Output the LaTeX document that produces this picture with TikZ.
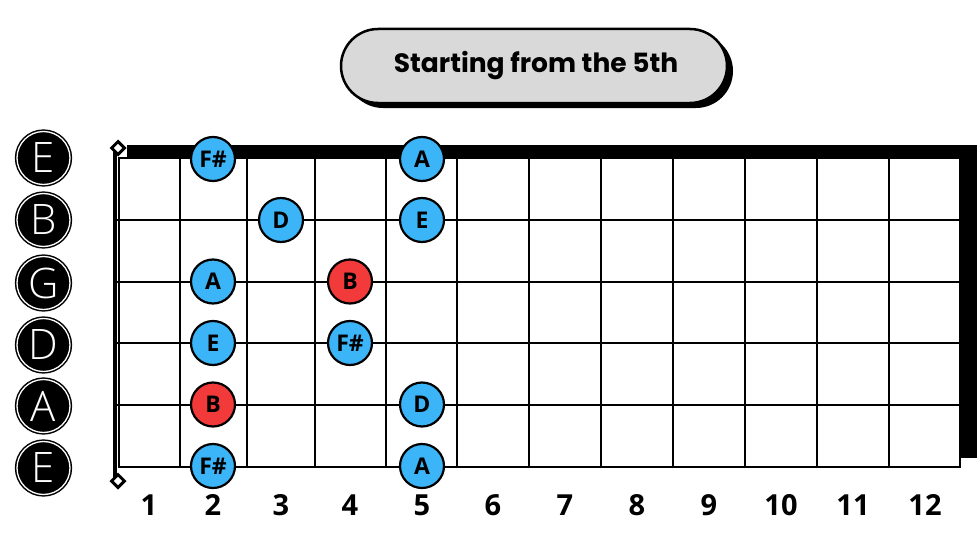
\documentclass[tikz,border=0pt]{standalone}
\usepackage{fontspec}
\usepackage{xcolor}
\usetikzlibrary{shapes.geometric}
\setmainfont{Open Sans}
\newfontfamily\titlefont{Poppins}
\IfFontExistsTF{Open Sans Light}{\newfontfamily\stringfont{Open Sans Light}}{%
  \IfFontExistsTF{Lato Light}{\newfontfamily\stringfont{Lato Light}}{\newfontfamily\stringfont{Lato}}}
\definecolor{noteblue}{HTML}{3BB5F8}
\definecolor{notered}{HTML}{F23A3A}
\definecolor{pillgray}{HTML}{D9D9D9}

\begin{document}
\begin{tikzpicture}[x=1pt, y=-1pt]
    \tikzstyle{note}=[circle,draw=black,line width=2.2pt,fill=noteblue,minimum size=44pt,inner sep=0pt,font=\bfseries\fontsize{23}{23}\selectfont]
    \tikzstyle{rootnote}=[note,fill=notered]
    \tikzstyle{stringlabel}=[circle,fill=black,draw=black,double=white,double distance=1.3pt,line width=1.5pt,minimum size=53pt,inner sep=0pt,text=white,font=\stringfont\fontsize{42}{42}\selectfont]
    \tikzstyle{fretnum}=[inner sep=0pt,font=\bfseries\fontsize{29}{29}\selectfont]
    \tikzstyle{nutmark}=[diamond,draw=black,fill=white,line width=3pt,minimum size=14pt,inner sep=0pt]
    \tikzstyle{pill}=[line width=2.5pt,rounded corners=37pt]

    \useasboundingbox (0,0) rectangle (980,551);

    % title
    \fill[pill] (346,34) rectangle (733,108);
    \draw[pill,fill=pillgray] (341,29) rectangle (727,103);
    \node[font=\titlefont\bfseries\fontsize{26.5}{26.5}\selectfont] (title) at (536,66) {Starting from the 5th};

    % fretboard
    \fill (127,145) rectangle (977,458);
    \draw[fill=white,line width=2pt] (118.5,158) rectangle (960,466.5);
    \foreach \x in {180,247,314.5,386,457,529,601,673,744.5,817,888.5}
        \draw[line width=2pt] (\x,158) -- (\x,466.5);
    \foreach \y in {220,281.5,343,404.5}
        \draw[line width=2pt] (113,\y) -- (960,\y);

    \coordinate (nuttop) at (118,148);
    \coordinate (nutbot) at (118,481);
    \draw[line width=4pt] ([xshift=-3pt]nuttop) -- ([xshift=-3pt]nutbot);
    \node[nutmark] (nutA) at (nuttop) {};
    \node[nutmark] (nutB) at (nutbot) {};

    % strings
    \node[stringlabel] (strE) at (43.5, 158) {E};
    \node[stringlabel] (strB) at (43.5, 220) {B};
    \node[stringlabel] (strG) at (43.5, 283) {G};
    \node[stringlabel] (strD) at (43.5, 345) {D};
    \node[stringlabel] (strA) at (43.5, 406) {A};
    \node[stringlabel] (strLowE) at (43.5, 468) {E};

    % notes
    \node[note] (s1f2) at (213, 159) {F\#};
    \node[note] (s1f5) at (422, 159) {A};
    \node[note] (s2f3) at (281, 220) {D};
    \node[note] (s2f5) at (422, 220) {E};
    \node[note] (s3f2) at (213, 281.5) {A};
    \node[rootnote] (s3f4) at (350, 281.5) {B};
    \node[note] (s4f2) at (213, 343) {E};
    \node[note] (s4f4) at (350, 343) {F\#};
    \node[rootnote] (s5f2) at (213, 404.5) {B};
    \node[note] (s5f5) at (422, 404.5) {D};
    \node[note] (s6f2) at (213, 466) {F\#};
    \node[note] (s6f5) at (422, 466) {A};

    % fret numbers
    \node[fretnum] (fret1) at (149, 505) {1};
    \node[fretnum] (fret2) at (213, 505) {2};
    \node[fretnum] (fret3) at (281, 505) {3};
    \node[fretnum] (fret4) at (350, 505) {4};
    \node[fretnum] (fret5) at (422, 505) {5};
    \node[fretnum] (fret6) at (493, 505) {6};
    \node[fretnum] (fret7) at (565, 505) {7};
    \node[fretnum] (fret8) at (637, 505) {8};
    \node[fretnum] (fret9) at (709, 505) {9};
    \node[fretnum] (fret10) at (781, 505) {10};
    \node[fretnum] (fret11) at (853, 505) {11};
    \node[fretnum] (fret12) at (925, 505) {12};
\end{tikzpicture}
\end{document}
